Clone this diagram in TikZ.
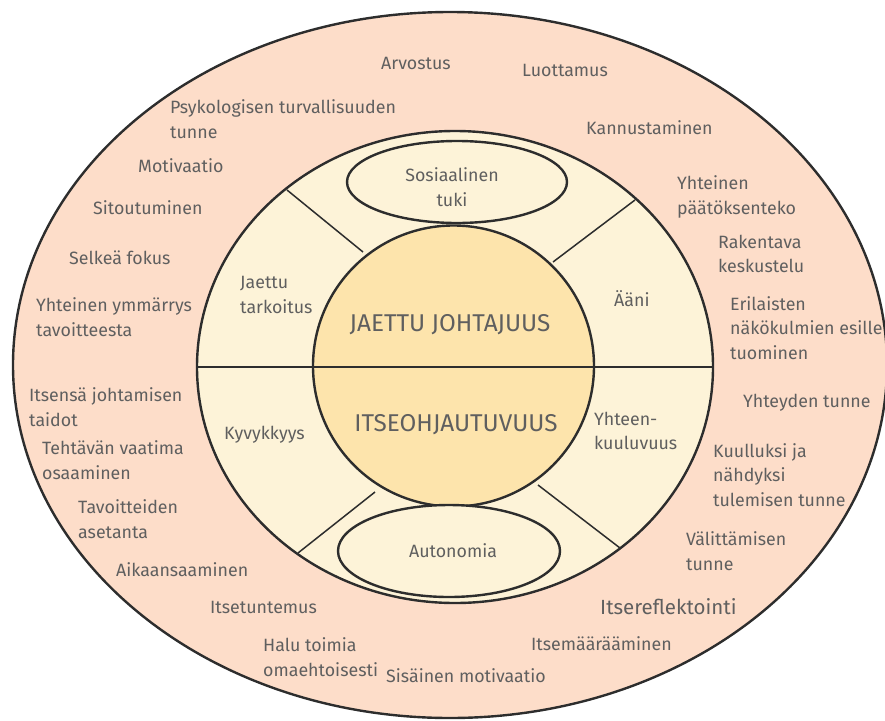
\documentclass[tikz,border=0pt]{standalone}
\usepackage{fontspec}
\setmainfont{Fira Sans}
\begin{document}
\definecolor{outerfill}{RGB}{253,221,201}
\definecolor{ringfill}{RGB}{253,243,216}
\definecolor{corefill}{RGB}{253,228,172}
\definecolor{edge}{RGB}{45,45,45}
\definecolor{txt}{RGB}{95,95,95}
\begin{tikzpicture}[x=1pt,y=-1pt,
  ringline/.style={draw=edge,line width=2.4pt},
  divider/.style={draw=edge,line width=1.5pt},
  lbl/.style={inner sep=0pt,text=txt,font=\fontsize{17.8}{24.5}\selectfont,align=left,anchor=west},
  clbl/.style={lbl,align=center,anchor=center},
  big/.style={inner sep=0pt,text=txt,font=\fontsize{24.3}{26}\selectfont,anchor=center}]
\useasboundingbox (0,0) rectangle (885,720);
% outer band
\path[ringline,fill=outerfill] (450,365) ellipse [x radius=437pt,y radius=353pt];
% middle ring
\path[ringline,fill=ringfill] (455,367) ellipse [x radius=258pt,y radius=236pt];
% sector dividers of the middle ring
\coordinate (d1a) at (287,190); \coordinate (d1b) at (363,252);
\coordinate (d2a) at (635,200); \coordinate (d2b) at (553,262);
\coordinate (d3a) at (298,553); \coordinate (d3b) at (375,492);
\coordinate (d4a) at (620,548); \coordinate (d4b) at (538,485);
\draw[divider] (d1a) -- (d1b);
\draw[divider] (d2a) -- (d2b);
\draw[divider] (d3a) -- (d3b);
\draw[divider] (d4a) -- (d4b);
% core circle
\path[ringline,fill=corefill] (453.5,366) circle [radius=140.5pt];
% horizontal split
\coordinate (hl) at (197,367); \coordinate (hr) at (713,367);
\draw[divider] (hl) -- (hr);
% the two small ellipses
\path[ringline,fill=ringfill] (457,182) ellipse [x radius=110pt,y radius=41pt];
\path[ringline,fill=ringfill] (449,551) ellipse [x radius=111pt,y radius=46pt];

% core labels
\node[big] (jj) at (450,325) {JAETTU JOHTAJUUS};
\node[big] (io) at (456,425) {ITSEOHJAUTUVUUS};

% middle ring labels
\node[clbl] (st) at (452,187) {Sosiaalinen\\tuki};
\node[clbl] (au) at (453,551) {Autonomia};
\node[lbl] (jt) at (240,295) {Jaettu\\tarkoitus};
\node[lbl] (aa) at (614,299) {Ääni};
\node[lbl] (kv) at (224,435) {Kyvykkyys};
\node[lbl] (yk) at (594,431) {Yhteen-\\kuuluvuus};

% outer band labels
\node[lbl] (o1) at (381,63) {Arvostus};
\node[lbl] (o2) at (522,70) {Luottamus};
\node[lbl] (o3) at (170,119) {Psykologisen turvallisuuden\\tunne};
\node[lbl] (o4) at (586,128) {Kannustaminen};
\node[lbl] (o5) at (138,166) {Motivaatio};
\node[lbl] (o6) at (93,208) {Sitoutuminen};
\node[lbl] (o7) at (677,197) {Yhteinen\\päätöksenteko};
\node[lbl] (o8) at (718,254) {Rakentava\\keskustelu};
\node[lbl] (o9) at (69,258) {Selkeä fokus};
\node[lbl] (o10) at (36,317) {Yhteinen ymmärrys\\tavoitteesta};
\node[lbl] (o11) at (730,328) {Erilaisten\\näkökulmien esille\\tuominen};
\node[lbl] (o12) at (29,407) {Itsensä johtamisen\\taidot};
\node[lbl] (o13) at (743,403) {Yhteyden tunne};
\node[lbl] (o14) at (42,460) {Tehtävän vaatima\\osaaminen};
\node[lbl] (o15) at (713,475) {Kuulluksi ja\\nähdyksi\\tulemisen tunne};
\node[lbl] (o16) at (78,519) {Tavoitteiden\\asetanta};
\node[lbl] (o17) at (686,551) {Välittämisen\\tunne};
\node[lbl] (o18) at (116,570) {Aikaansaaminen};
\node[lbl] (o19) at (210,607) {Itsetuntemus};
\node[lbl,font=\fontsize{20.5}{24}\selectfont] (o20) at (600,607) {Itsereflektointi};
\node[lbl] (o21) at (263,657) {Halu toimia\\omaehtoisesti};
\node[lbl] (o22) at (531,644) {Itsemäärääminen};
\node[lbl] (o23) at (386,676) {Sisäinen motivaatio};
\end{tikzpicture}
\end{document}
